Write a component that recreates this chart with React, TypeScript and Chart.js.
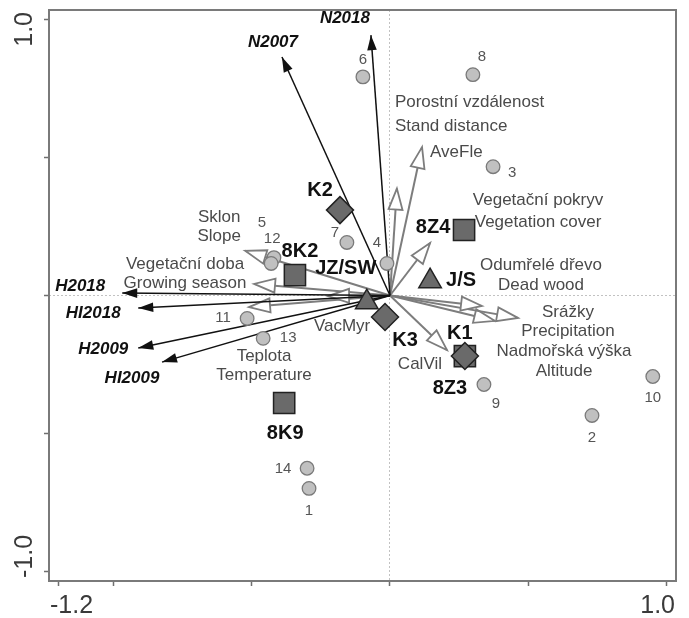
import React, { useEffect, useRef } from 'react';
import { Chart, registerables } from 'chart.js';

Chart.register(...registerables);

const FONT = '"Liberation Sans", Arial, Helvetica, sans-serif';

// ---- axes ----
const X_MIN = -1.234;
const X_MAX = 1.035;
const Y_MIN = -1.033;
const Y_MAX = 1.033;
const xTickValues = [-1.2, -1.0, -0.5, 0, 0.5, 1.0];
const yTickValues = [-1.0, -0.5, 0, 0.5, 1.0];
const xLabelValues = [-1.2, 1.0];
const xTickLabels = ['-1.2', '1.0'];
const yLabelValues = [-1.0, 1.0];
const yTickLabels = ['-1.0', '1.0'];

// ---- samples (grey circles) ----
const sampleIds = ['1', '2', '3', '4', '5', '6', '7', '8', '9', '10', '11', '12', '13', '14'];
const sampleX = [-0.293, 0.731, 0.373, -0.011, -0.420, -0.098, -0.156, 0.300, 0.340, 0.951, -0.517, -0.430, -0.459, -0.300];
const sampleY = [-0.698, -0.434, 0.466, 0.116, 0.137, 0.791, 0.192, 0.799, -0.322, -0.293, -0.083, 0.116, -0.155, -0.625];

// ---- environmental variables (black arrows) ----
const envNames = ['N2018', 'N2007', 'H2018', 'HI2018', 'H2009', 'HI2009'];
const envX = [-0.069, -0.391, -0.969, -0.911, -0.911, -0.825];
const envY = [0.942, 0.863, 0.009, -0.045, -0.190, -0.241];

// ---- supplementary variables (grey hollow arrows) ----
const suppNames = [
  ['Porostní vzdálenost', 'Stand distance'],
  ['AveFle'],
  ['Vegetační pokryv', 'Vegetation cover'],
  ['Odumřelé dřevo', 'Dead wood'],
  ['Srážky', 'Precipitation'],
  ['Nadmořská výška', 'Altitude'],
  ['CalVil'],
  ['VacMyr'],
  ['Sklon', 'Slope'],
  ['Vegetační doba', 'Growing season'],
  ['Teplota', 'Temperature'],
];
const suppX = [0.025, 0.116, 0.145, 0.333, 0.463, 0.380, 0.206, -0.224, -0.524, -0.492, -0.510];
const suppY = [0.387, 0.537, 0.190, -0.038, -0.081, -0.092, -0.197, -0.002, 0.162, 0.042, -0.042];

// ---- centroids ----
const squareNames = ['8K2', '8Z4', '8K9', '8Z3'];
const squareX = [-0.344, 0.268, -0.383, 0.271];
const squareY = [0.074, 0.237, -0.389, -0.219];
const diamondNames = ['K2', 'K3', 'K1'];
const diamondX = [-0.181, -0.018, 0.271];
const diamondY = [0.309, -0.078, -0.219];
const triangleNames = ['J/S', 'JZ/SW'];
const triangleX = [0.145, -0.084];
const triangleY = [0.052, -0.024];

// ---- label placement (pixel offsets from the mark) ----
const sampleLabelOffsets = [[0, 22], [0, 22], [19, 6], [-10, -21], [-12, -35], [0, -17], [-12, -10], [9, -18], [12, 19], [0, 21], [-24, -1], [1, -25], [25, 0], [-24, 1]];
const envLabelOffsets = [[-26, -17], [-9, -15], [-42, -7], [-45, 5], [-35, 1], [-30, 16]];
// [dx, dy of first line, line height, align]
const suppLabelPlacement: [number, number, number, CanvasTextAlign][] = [
  [-2, -86, 24, 'left'],
  [8, 5, 20, 'left'],
  [108, -43, 22, 'center'],
  [59, -41, 20, 'center'],
  [50, -6, 19, 'center'],
  [69, 30, 20, 'center'],
  [-27, 14, 20, 'center'],
  [14, 30, 20, 'center'],
  [-26, -33, 19, 'center'],
  [-69, -20, 19, 'center'],
  [15, 49, 19, 'center'],
];
const squareLabelOffsets = [[5, -24], [-31, -3], [1, 30], [-15, 32]];
const diamondLabelOffsets = [[-20, -20], [20, 23], [-5, -23]];
const triangleLabelOffsets = [[31, -1], [-21, -34]];

const toPoints = (xs: number[], ys: number[]) => xs.map((x, i) => ({ x, y: ys[i] }));

const arrowHeadPlugin = {
  id: 'arrowHeads',
  afterDatasetDraw(chart: any, args: any) {
    const ds = chart.data.datasets[args.index];
    if (!ds.arrowKind) return;
    const meta = args.meta;
    const p0 = meta.data[0];
    const p1 = meta.data[1];
    if (!p0 || !p1) return;
    const ang = Math.atan2(p1.y - p0.y, p1.x - p0.x);
    const ctx = chart.ctx;
    const env = ds.arrowKind === 'env';
    const L = env ? 15 : 21;
    const W = env ? 4.8 : 7;
    ctx.save();
    ctx.translate(p1.x, p1.y);
    ctx.rotate(ang);
    ctx.beginPath();
    ctx.moveTo(0, 0);
    ctx.lineTo(-L, -W);
    ctx.lineTo(-L, W);
    ctx.closePath();
    if (env) {
      ctx.fillStyle = '#111';
      ctx.fill();
    } else {
      ctx.fillStyle = '#ffffff';
      ctx.fill();
      ctx.lineWidth = 1.8;
      ctx.strokeStyle = '#7d7d7d';
      ctx.lineJoin = 'miter';
      ctx.stroke();
    }
    ctx.restore();
  },
};

const framePlugin = {
  id: 'frame',
  beforeDatasetsDraw(chart: any) {
    const { ctx, chartArea: a } = chart;
    ctx.save();
    ctx.strokeStyle = '#7a7a7a';
    ctx.lineWidth = 2;
    ctx.strokeRect(a.left, a.top, a.right - a.left, a.bottom - a.top);
    ctx.restore();
  },
};

const textPlugin = {
  id: 'texts',
  afterDatasetsDraw(chart: any) {
    const { ctx, chartArea: a } = chart;
    const sx = chart.scales.x;
    const sy = chart.scales.y;
    const P = (x: number, y: number) => [sx.getPixelForValue(x), sy.getPixelForValue(y)];
    ctx.save();
    ctx.textBaseline = 'middle';

    // samples
    ctx.font = `15px ${FONT}`;
    ctx.fillStyle = '#555';
    ctx.textAlign = 'center';
    sampleIds.forEach((s, i) => {
      const [px, py] = P(sampleX[i], sampleY[i]);
      const [dx, dy] = sampleLabelOffsets[i];
      ctx.fillText(s, px + dx, py + dy);
    });

    // supplementary labels
    ctx.font = `17px ${FONT}`;
    ctx.fillStyle = '#4a4a4a';
    suppNames.forEach((lines, i) => {
      const [px, py] = P(suppX[i], suppY[i]);
      const [dx, dy, lh, align] = suppLabelPlacement[i];
      ctx.textAlign = align;
      lines.forEach((ln, j) => ctx.fillText(ln, px + dx, py + dy + j * lh));
    });

    // environmental labels
    ctx.font = `italic bold 17px ${FONT}`;
    ctx.fillStyle = '#111';
    ctx.textAlign = 'center';
    envNames.forEach((s, i) => {
      const [px, py] = P(envX[i], envY[i]);
      const [dx, dy] = envLabelOffsets[i];
      ctx.fillText(s, px + dx, py + dy);
    });

    // centroid labels
    ctx.font = `bold 20px ${FONT}`;
    ctx.fillStyle = '#111';
    const groups: [string[], number[], number[], number[][]][] = [
      [squareNames, squareX, squareY, squareLabelOffsets],
      [diamondNames, diamondX, diamondY, diamondLabelOffsets],
      [triangleNames, triangleX, triangleY, triangleLabelOffsets],
    ];
    groups.forEach(([names, xs, ys, offs]) => {
      names.forEach((s, i) => {
        const [px, py] = P(xs[i], ys[i]);
        ctx.fillText(s, px + offs[i][0], py + offs[i][1]);
      });
    });

    // axis tick labels (kept inside the frame extent)
    ctx.font = `25px ${FONT}`;
    ctx.fillStyle = '#3a3a3a';
    ctx.textAlign = 'left';
    xLabelValues.forEach((v, i) => {
      const s = xTickLabels[i];
      const w = ctx.measureText(s).width;
      const cx = sx.getPixelForValue(v);
      const left = Math.min(Math.max(cx - w / 2, a.left + 1), a.right - 1 - w);
      ctx.fillText(s, left, a.bottom + 25);
    });
    ctx.textAlign = 'center';
    yLabelValues.forEach((v, i) => {
      const s = yTickLabels[i];
      const w = ctx.measureText(s).width;
      let cy = sy.getPixelForValue(v);
      cy = Math.min(Math.max(cy, a.top + 2 + w / 2), a.bottom - 3 - w / 2);
      ctx.save();
      ctx.translate(a.left - 24, cy);
      ctx.rotate(-Math.PI / 2);
      ctx.fillText(s, 0, 0);
      ctx.restore();
    });
    ctx.restore();
  },
};

function buildDatasets() {
  const ds: any[] = [];
  ds.push({
    label: 'diamonds',
    data: toPoints(diamondX, diamondY),
    pointStyle: 'rectRot',
    pointRadius: 13.5,
    backgroundColor: '#6a6a6a',
    borderColor: '#222',
    borderWidth: 1.5,
    order: 0,
  });
  ds.push({
    label: 'triangles',
    data: toPoints(triangleX, triangleY),
    pointStyle: 'triangle',
    pointRadius: 13,
    backgroundColor: '#6a6a6a',
    borderColor: '#222',
    borderWidth: 1.5,
    order: 0,
  });
  ds.push({
    label: 'squares',
    data: toPoints(squareX, squareY),
    pointStyle: 'rect',
    pointRadius: 15,
    backgroundColor: '#6a6a6a',
    borderColor: '#222',
    borderWidth: 1.5,
    order: 1,
  });
  ds.push({
    label: 'samples',
    data: toPoints(sampleX, sampleY),
    pointStyle: 'circle',
    pointRadius: 6.8,
    backgroundColor: '#c0c0c0',
    borderColor: '#7a7a7a',
    borderWidth: 1.3,
    order: 2,
  });
  envNames.forEach((n, i) => {
    ds.push({
      label: n,
      data: [{ x: 0, y: 0 }, { x: envX[i], y: envY[i] }],
      showLine: true,
      borderColor: '#111',
      borderWidth: 1.5,
      pointRadius: 0,
      pointHoverRadius: 0,
      arrowKind: 'env',
      order: 3,
    });
  });
  suppNames.forEach((n, i) => {
    ds.push({
      label: n.join(' / '),
      data: [{ x: 0, y: 0 }, { x: suppX[i], y: suppY[i] }],
      showLine: true,
      borderColor: '#7d7d7d',
      borderWidth: 2,
      pointRadius: 0,
      pointHoverRadius: 0,
      arrowKind: 'supp',
      order: 4,
    });
  });
  return ds;
}

export default function App() {
  const ref = useRef<HTMLCanvasElement>(null);
  useEffect(() => {
    const canvas = ref.current;
    if (!canvas) return;
    const zeroColor = (c: any) => (c.tick && c.tick.value === 0 ? '#c2c2c2' : 'rgba(0,0,0,0)');
    const chart = new Chart(canvas, {
      type: 'scatter',
      data: { datasets: buildDatasets() },
      options: {
        animation: false,
        responsive: false,
        devicePixelRatio: 1,
        events: [],
        layout: { padding: { left: 0, right: 13, top: 10, bottom: 0 }, autoPadding: false },
        plugins: { legend: { display: false }, tooltip: { enabled: false } },
        scales: {
          x: {
            type: 'linear',
            min: X_MIN,
            max: X_MAX,
            afterBuildTicks: (scale: any) => {
              scale.ticks = xTickValues.map((v) => ({ value: v }));
            },
            afterFit: (scale: any) => {
              scale.height = 37;
            },
            ticks: { display: false },
            border: { display: false, dash: [2, 2] },
            grid: {
              drawOnChartArea: true,
              color: zeroColor,
              lineWidth: 1,
              drawTicks: true,
              tickLength: 5,
              tickColor: '#6f6f6f',
              tickWidth: 1.5,
            },
          },
          y: {
            type: 'linear',
            min: Y_MIN,
            max: Y_MAX,
            afterBuildTicks: (scale: any) => {
              scale.ticks = yTickValues.map((v) => ({ value: v }));
            },
            afterFit: (scale: any) => {
              scale.width = 49;
            },
            ticks: { display: false },
            border: { display: false, dash: [2, 2] },
            grid: {
              drawOnChartArea: true,
              color: zeroColor,
              lineWidth: 1,
              drawTicks: true,
              tickLength: 5,
              tickColor: '#6f6f6f',
              tickWidth: 1.5,
            },
          },
        },
      } as any,
      plugins: [framePlugin, arrowHeadPlugin, textPlugin],
    });
    return () => chart.destroy();
  }, []);
  return (
    <div style={{ position: 'absolute', left: 0, top: 0, width: 689, height: 618, background: '#fff' }}>
      <canvas ref={ref} width={689} height={618} style={{ display: 'block', width: 689, height: 618 }} />
    </div>
  );
}
